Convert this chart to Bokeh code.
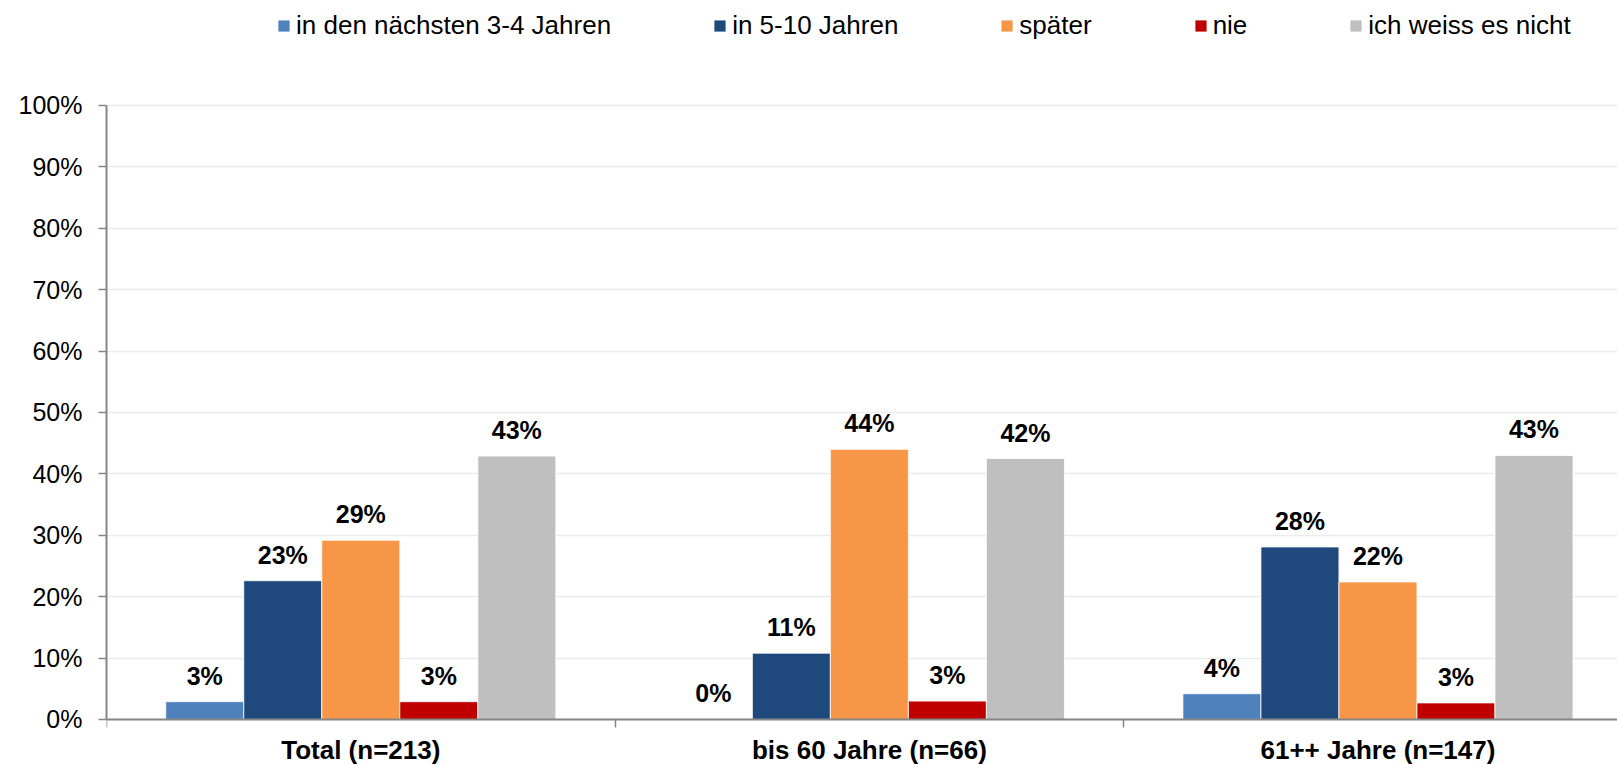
from bokeh.plotting import figure
from bokeh.models import (ColumnDataSource, Legend, LegendItem, FixedTicker,
                          PrintfTickFormatter, LabelSet, Range1d)
from bokeh.core.properties import value
from bokeh.embed import file_html
from bokeh.resources import INLINE

# ---- data ----
categories = ["Total (n=213)", "bis 60 Jahre (n=66)", "61++ Jahre (n=147)"]
series = ["in den nächsten 3-4 Jahren", "in 5-10 Jahren", "später", "nie", "ich weiss es nicht"]
colors = ["#4F81BD", "#1F497D", "#F79646", "#C00000", "#BFBFBF"]
v_next_3_4 = [2.9, 0.0, 4.2]
v_5_10 = [22.6, 10.8, 28.1]
v_later = [29.2, 44.0, 22.4]
v_never = [2.9, 3.0, 2.7]
v_dont_know = [42.9, 42.5, 43.0]
values = [v_next_3_4, v_5_10, v_later, v_never, v_dont_know]
y_ticks = [0, 10, 20, 30, 40, 50, 60, 70, 80, 90, 100]

FONT = "Liberation Sans"
BAR_W = 0.1534

# the frame covers the whole canvas height so that legend and category labels are not clipped
p = figure(width=1617, height=764,
           x_range=Range1d(0, 2.971), y_range=Range1d(-7.33, 117.1),
           output_backend="svg", toolbar_location=None,
           min_border_left=106, min_border_right=0, min_border_top=0, min_border_bottom=0)
p.outline_line_color = None
p.background_fill_color = "white"

items = []
for j, (name, vals, col) in enumerate(zip(series, values, colors)):
    xs = [i + 0.5 + (j - 2) * BAR_W for i in range(len(categories))]
    labels = [f"{v:.0f}%" for v in vals]
    src = ColumnDataSource(dict(x=xs, top=vals, label=labels))
    r = p.vbar(x="x", top="top", bottom=0, width=BAR_W, source=src,
               fill_color=col, line_color="white", line_width=0.8)
    items.append(LegendItem(label=name, renderers=[r]))
    p.add_layout(LabelSet(x="x", y="top", text="label", source=src,
                          text_align="center", text_baseline="alphabetic",
                          y_offset=17, text_font=value(FONT),
                          text_font_size=value("25px"), text_font_style="bold",
                          text_color="black"))

# grid
p.xgrid.visible = False
p.ygrid.ticker = FixedTicker(ticks=y_ticks)
p.ygrid.grid_line_color = "#ebebeb"
p.ygrid.grid_line_width = 1.5

# y axis
p.yaxis.ticker = FixedTicker(ticks=y_ticks)
p.yaxis.bounds = (0, 100)
p.yaxis.formatter = PrintfTickFormatter(format="%d%%")
p.yaxis.axis_line_color = "#868686"
p.yaxis.axis_line_width = 2
p.yaxis.major_tick_line_color = "#868686"
p.yaxis.major_tick_line_width = 1.5
p.yaxis.major_tick_out = 8
p.yaxis.major_tick_in = 0
p.yaxis.minor_tick_line_color = None
p.yaxis.major_label_standoff = 16
p.yaxis.major_label_text_font = FONT
p.yaxis.major_label_text_font_size = "25px"
p.yaxis.major_label_text_color = "black"

# x axis at 0%: category labels at centres, separator ticks at boundaries
p.xaxis.fixed_location = 0
p.xaxis.ticker = FixedTicker(ticks=[0.5, 1.5, 2.5], minor_ticks=[0, 1, 2, 3])
p.xaxis.major_label_overrides = {i + 0.5: c for i, c in enumerate(categories)}
p.xaxis.axis_line_color = "#868686"
p.xaxis.axis_line_width = 2
p.xaxis.major_tick_line_color = None
p.xaxis.major_tick_out = 8
p.xaxis.major_tick_in = 0
p.xaxis.minor_tick_line_color = "#868686"
p.xaxis.minor_tick_line_width = 1.5
p.xaxis.minor_tick_out = 8
p.xaxis.minor_tick_in = 0
p.xaxis.major_label_standoff = 8
p.xaxis.major_label_text_font = FONT
p.xaxis.major_label_text_font_size = "26px"
p.xaxis.major_label_text_font_style = "bold"
p.xaxis.major_label_text_color = "black"

legend = Legend(items=items, orientation="horizontal", location=(170, 723),
                spacing=101, glyph_width=15, glyph_height=15, label_standoff=5,
                padding=0, margin=0, border_line_color=None, background_fill_alpha=0,
                label_text_font=FONT, label_text_font_size="26px",
                label_text_color="black", label_height=20)
p.add_layout(legend, "center")

open("out.html", "w").write(file_html(p, INLINE))
